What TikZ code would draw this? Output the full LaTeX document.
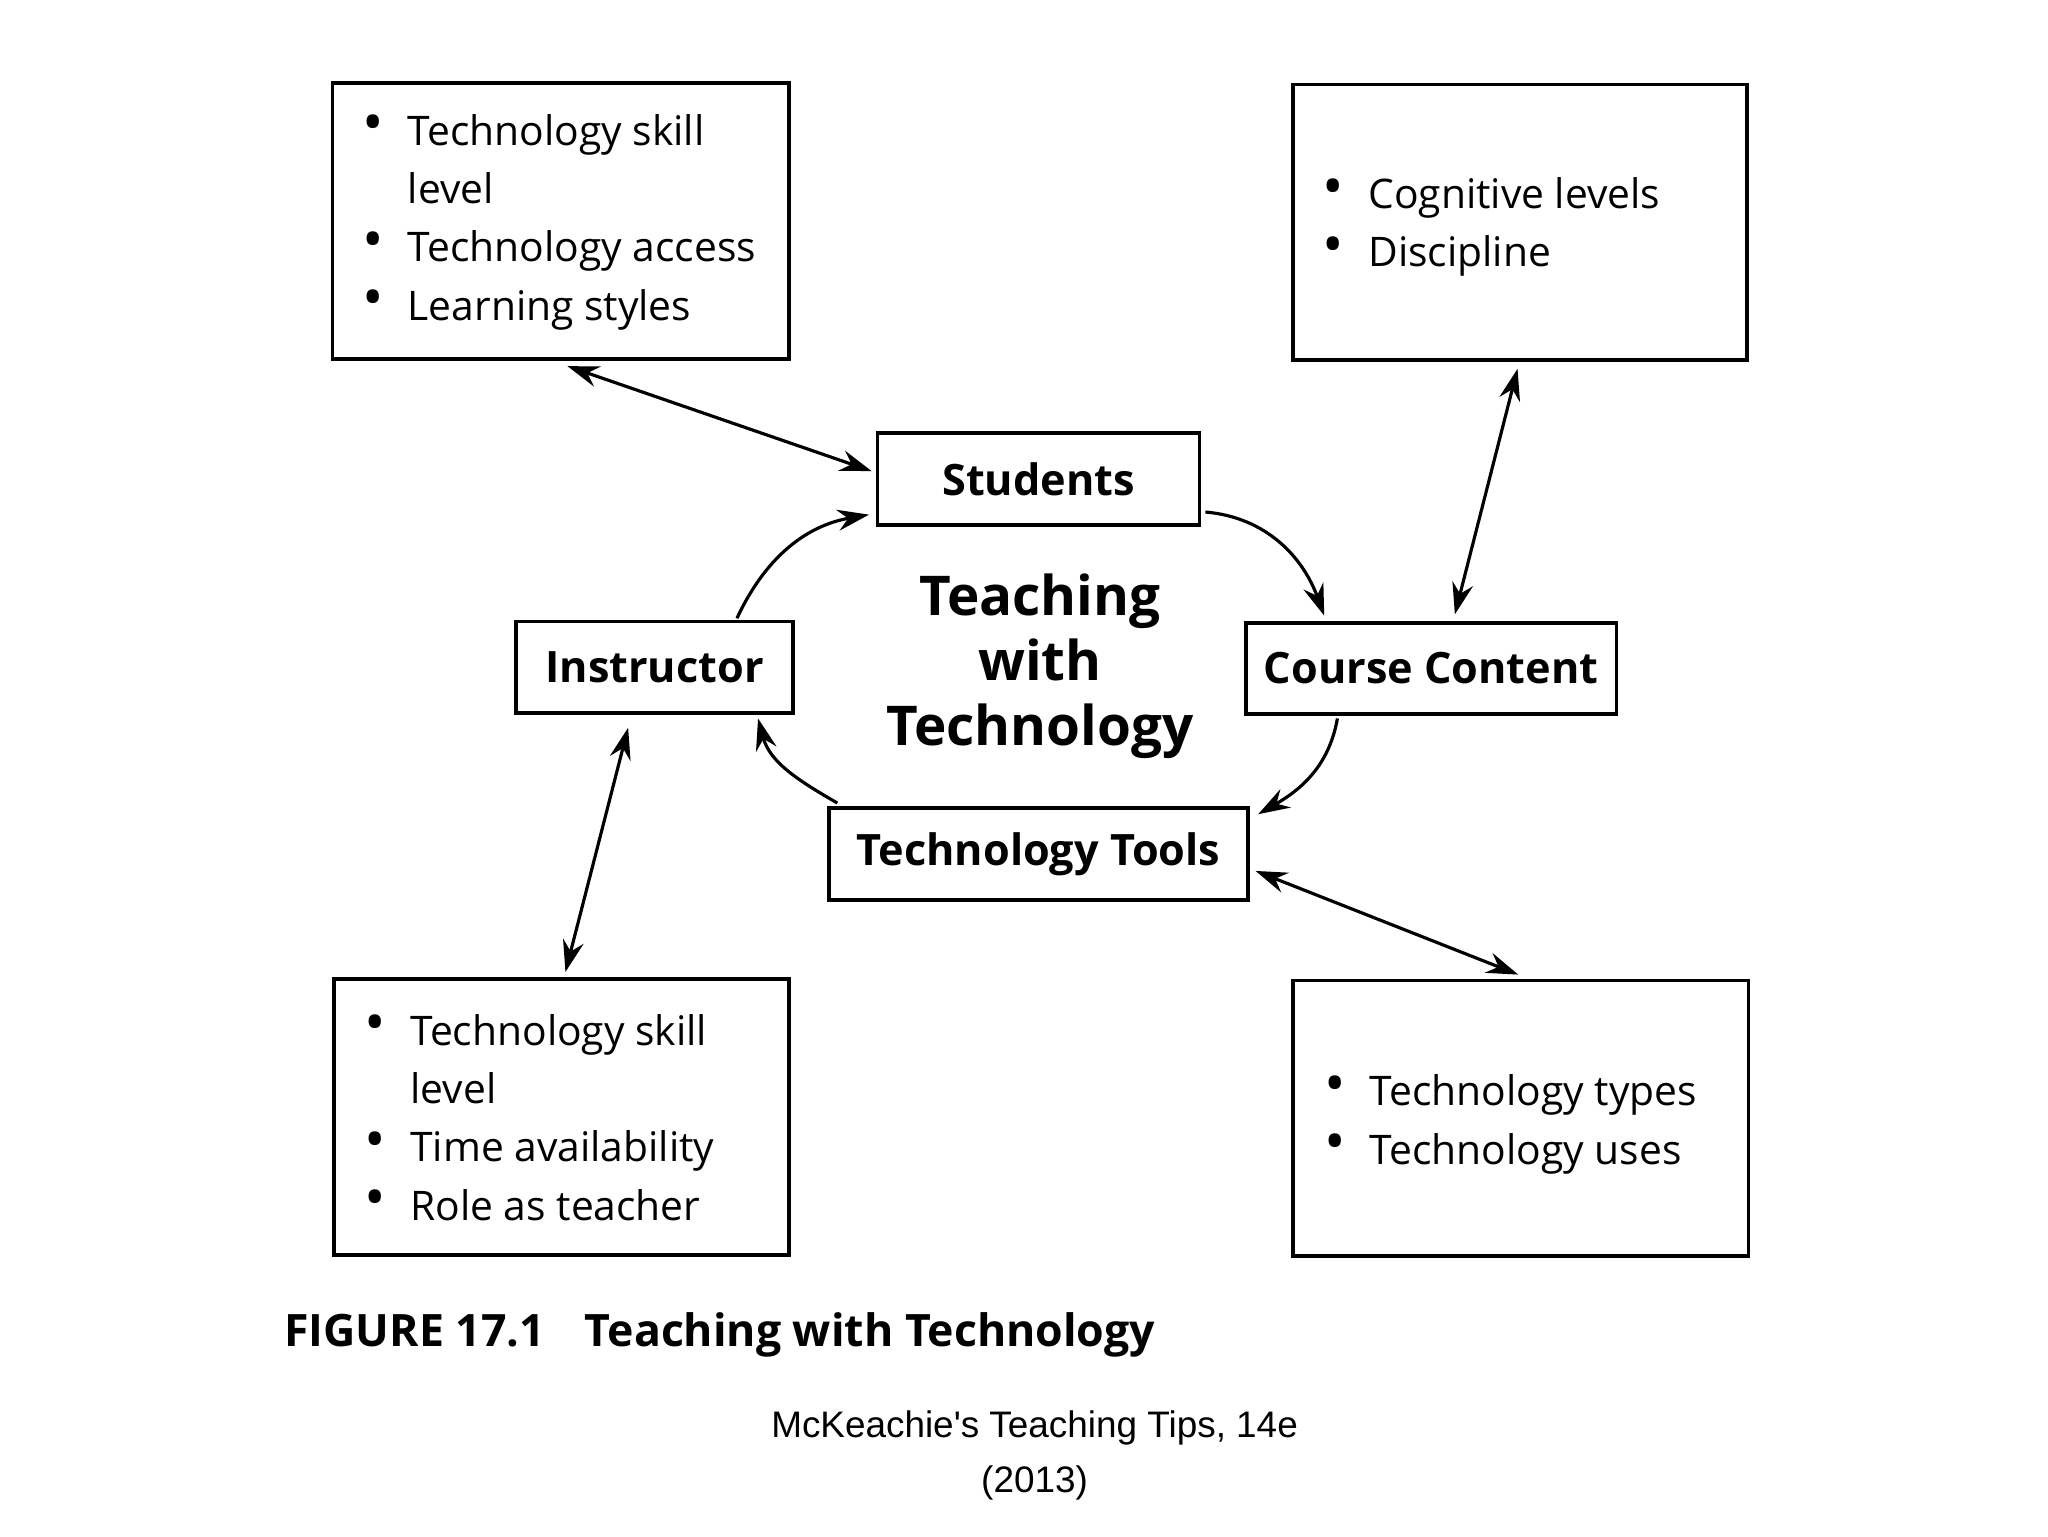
\documentclass[tikz,border=0pt]{standalone}
\usepackage{fontspec}
\setmainfont{Open Sans}
\newfontfamily\footfont{Liberation Sans}
\usetikzlibrary{calc,arrows.meta}
\newcommand{\bb}{\raisebox{0.1ex}{\scalebox{1.4}{\textbullet}}}
\newcommand{\bitems}[1]{{\fontsize{11.6}{16.6}\selectfont\renewcommand{\arraystretch}{1}\begin{tabular}[t]{@{}l@{\hspace{0.24cm}}l@{}}#1\end{tabular}}}
\tikzset{x=0.013196cm,y=-0.013196cm,
 box/.style={draw,line width=1.1pt,inner sep=0pt},
 lab/.style={box,font=\fontsize{12.3}{15}\selectfont\bfseries},
 txt/.style={anchor=base west,inner sep=0pt},
 con/.style={line width=0.9pt,{Stealth[length=9pt,width=6pt,inset=3pt]}-{Stealth[length=9pt,width=6pt,inset=3pt]}},
 cur/.style={line width=0.9pt,-{Stealth[length=9pt,width=6pt,inset=3pt]}}}
\begin{document}
\begin{tikzpicture}
\useasboundingbox (0,0) rectangle (1552,1164);
\node[box,minimum width=346*0.013196cm,minimum height=209*0.013196cm] (tl) at (425,167.5) {};
\node[box,minimum width=344*0.013196cm,minimum height=209*0.013196cm] (tr) at (1152,168.5) {};
\node[box,minimum width=345*0.013196cm,minimum height=209*0.013196cm] (bl) at (425.5,846.5) {};
\node[box,minimum width=345*0.013196cm,minimum height=209*0.013196cm] (br) at (1152.5,847.5) {};
\node[txt] (tlt) at (274,110) {\bitems{\bb & Technology skill\\ & level\\ \bb & Technology access\\ \bb & Learning styles}};
\node[txt] (trt) at (1002,158) {\bitems{\bb & Cognitive levels\\ \bb & Discipline}};
\node[txt] (blt) at (276,792) {\bitems{\bb & Technology skill\\ & level\\ \bb & Time availability\\ \bb & Role as teacher}};
\node[txt] (brt) at (1003,838) {\bitems{\bb & Technology types\\ \bb & Technology uses}};
\node[lab,minimum width=244*0.013196cm,minimum height=70*0.013196cm] (st) at (787,363) {Students};
\node[lab,minimum width=210*0.013196cm,minimum height=69*0.013196cm] (in) at (496,505.5) {Instructor};
\node[lab,minimum width=281*0.013196cm,minimum height=69*0.013196cm] (cc) at (1084.5,506.5) {Course Content};
\node[lab,minimum width=318*0.013196cm,minimum height=70*0.013196cm] (tt) at (787,647) {Technology Tools};
\node[align=center,font=\fontsize{15.6}{18.5}\selectfont\bfseries,inner sep=0pt] (ctr) at (788,505) {Teaching\\with\\Technology};
\draw[con] ($(tl.south)+(5,4)$) -- ($(st.west)+(-3,-6)$);
\draw[con] ($(tr.south)+(-2,5)$) -- ($(cc.north)+(18,-5)$);
\draw[con] ($(in.south)+(-20,10)$) -- ($(bl.north)+(3,-4)$);
\draw[con] ($(tt.east)+(4,13)$) -- ($(br.north)+(-2,-3)$);
\draw[cur] ($(st.east)+(3,25)$) to[out=-5,in=110] ($(cc.north)+(-81,-4)$);
\draw[cur] ($(cc.south)+(-71,2)$) to[out=-100,in=30] ($(tt.east)+(6,-30)$);
\draw[cur] ($(tt.north west)+(8,-2)$) to[out=150,in=-75] ($(in.south east)+(-28,3)$);
\draw[cur] ($(in.north east)+(-44,-1)$) to[out=65,in=190] ($(st.west)+(-5,27)$);
\node[anchor=base west,inner sep=0pt,font=\fontsize{12.7}{15}\selectfont\bfseries] (cap) at (215,1020) {FIGURE 17.1\hspace{0.4cm}Teaching with Technology};
\node[align=center,inner sep=0pt,font=\footfont\fontsize{10.5}{15.5}\selectfont] (foot) at (784,1103) {McKeachie's Teaching Tips, 14e\\(2013)};
\end{tikzpicture}
\end{document}
